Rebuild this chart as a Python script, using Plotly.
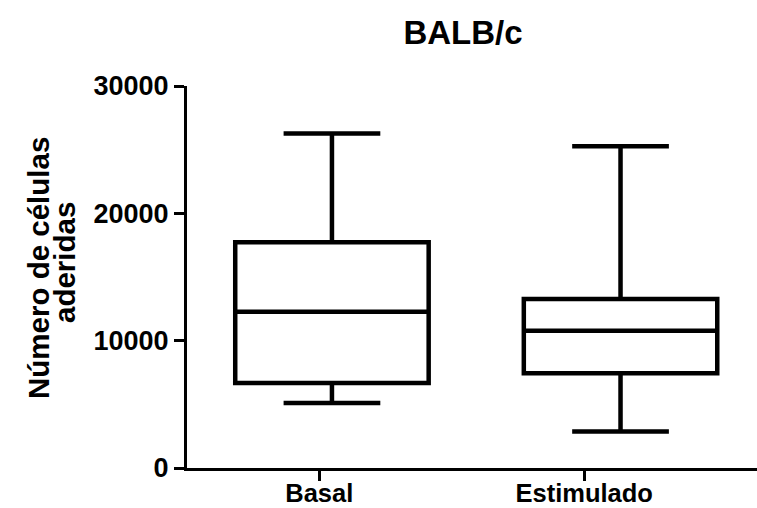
import plotly.graph_objects as go

categories = ["Basal", "Estimulado"]
q1 = [6670, 7450]
median = [12280, 10770]
q3 = [17720, 13280]
lower = [5100, 2870]
upper = [26270, 25270]
y_ticks = [0, 10000, 20000, 30000]

# layout constants (box centres are drawn slightly right of the tick marks, as in the reference)
box_shift = [0.048, 0.137]
W, H = 757, 508
FONT = "Liberation Sans, Arial, sans-serif"

fig = go.Figure()
for i, cat in enumerate(categories):
    fig.add_trace(go.Box(
        x=[i + box_shift[i]],
        q1=[q1[i]], median=[median[i]], q3=[q3[i]],
        lowerfence=[lower[i]], upperfence=[upper[i]],
        name=cat,
        width=0.73,
        whiskerwidth=0.5,
        fillcolor="rgba(0,0,0,0)",
        line=dict(color="black", width=4.5),
        boxpoints=False,
        showlegend=False,
        hoverinfo="skip",
    ))

fig.update_layout(
    width=W, height=H,
    margin=dict(l=187, r=0, t=86, b=40),
    paper_bgcolor="white", plot_bgcolor="white",
    title=dict(text="BALB/c", x=(463 - 187) / 570, xref="paper", xanchor="center",
               y=1 - 32 / H, yref="container", yanchor="middle",
               font=dict(family=FONT, size=33, color="black", weight="bold")),
    xaxis=dict(range=[-0.499, 1.652], tickmode="array", tickvals=list(range(len(categories))),
               ticktext=categories, showline=True, linecolor="black", linewidth=3,
               ticks="outside", ticklen=10, tickwidth=3, tickcolor="black",
               showgrid=False, zeroline=False, automargin=False,
               ticklabelstandoff=-10,
               tickfont=dict(family=FONT, size=25.5, color="black", weight="bold")),
    yaxis=dict(range=[0, 30000], tickmode="array", tickvals=y_ticks,
               ticktext=[str(v) for v in y_ticks],
               showline=True, linecolor="black", linewidth=3,
               ticks="outside", ticklen=10, tickwidth=3, tickcolor="black",
               showgrid=False, zeroline=False, automargin=False,
               tickfont=dict(family=FONT, size=27, color="black", weight="bold")),
    annotations=[
        dict(text="Número de células", textangle=-90, xref="paper", yref="paper",
             x=(38 - 187) / 570, y=(468.3 - 268) / 382.6, xanchor="center", yanchor="middle",
             showarrow=False, font=dict(family=FONT, size=29.5, color="black", weight="bold")),
        dict(text="aderidas", textangle=-90, xref="paper", yref="paper",
             x=(64 - 187) / 570, y=(468.3 - 263) / 382.6, xanchor="center", yanchor="middle",
             showarrow=False, font=dict(family=FONT, size=29.5, color="black", weight="bold")),
    ],
)

fig.write_html("out.html")
